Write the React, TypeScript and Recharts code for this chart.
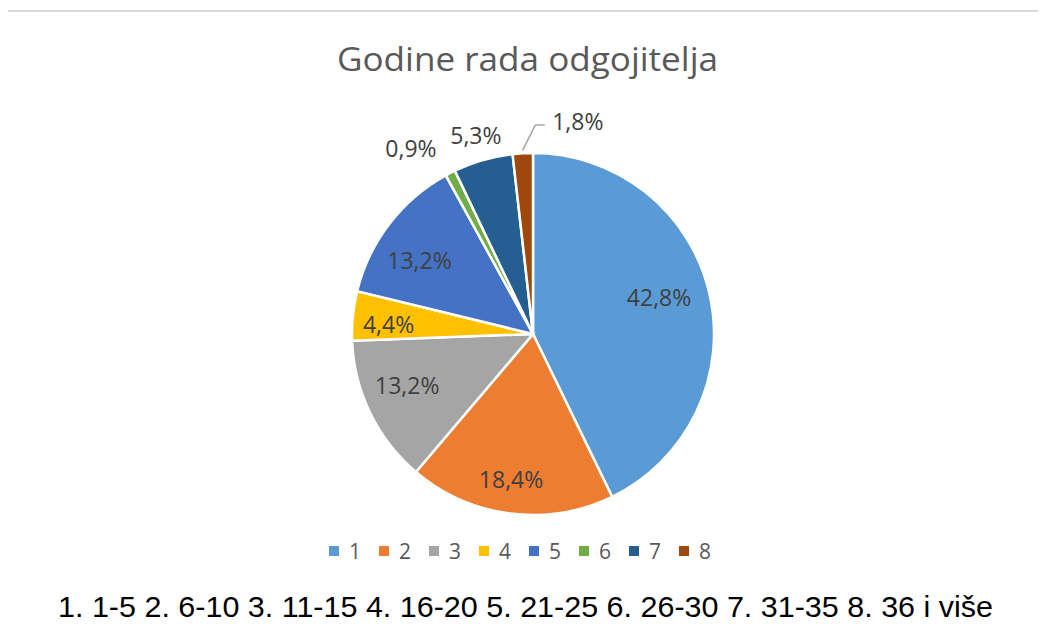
import { PieChart, Pie, Cell, Legend } from "recharts";

const CATEGORIES = ["1", "2", "3", "4", "5", "6", "7", "8"];
const SHARES = [42.8, 18.4, 13.2, 4.4, 13.2, 0.9, 5.3, 1.8];
const COLORS = ["#5B9BD5", "#ED7D31", "#A5A5A5", "#FFC000", "#4472C4", "#70AD47", "#255E91", "#9E480E"];
const TITLE = "Godine rada odgojitelja";
const CAPTION = "1. 1-5 2. 6-10 3. 11-15 4. 16-20 5. 21-25 6. 26-30 7. 31-35 8. 36 i više";

const pieData = CATEGORIES.map((name, i) => ({ name, value: SHARES[i] }));

// label placement: radius factor and angle shift (deg, clockwise) per slice
const LABEL_PLACE = [
  { f: 0.725, da: -3.2 },
  { f: 0.81, da: 1.4 },
  { f: 0.75, da: 3.8 },
  { f: 0.8, da: -1.7 },
  { f: 0.75, da: -4.2 },
  { f: 1.229, da: -6.1 },
  { f: 1.143, da: 0 },
  { f: 1.205, da: 15.1 },
];

const RAD = Math.PI / 180;
const fmt = (v: number) => v.toFixed(1).replace(".", ",") + "%";

function renderLabel(props: any) {
  const { cx, cy, midAngle, outerRadius, index, value } = props;
  const p = LABEL_PLACE[index];
  // clockwise from top
  const cw = 90 - midAngle + p.da;
  const r = outerRadius * p.f;
  const x = cx + r * Math.sin(cw * RAD);
  const y = cy - r * Math.cos(cw * RAD);
  const text = fmt(value);
  let leader = null;
  if (index === 7) {
    const mid = 90 - midAngle;
    const ex = cx + (outerRadius + 3) * Math.sin(mid * RAD);
    const ey = cy - (outerRadius + 3) * Math.cos(mid * RAD);
    const left = x - 25.5;
    leader = (
      <polyline
        points={`${ex},${ey} ${left - 17},${y + 4.5} ${left - 7.5},${y + 4.5}`}
        fill="none"
        stroke="#A6A6A6"
        strokeWidth={1.5}
      />
    );
  }
  return (
    <g key={`lbl-${index}`}>
      {leader}
      <text
        x={x}
        y={y}
        textAnchor="middle"
        dominantBaseline="central"
        fill="#404040"
        fontSize={23}
        fontFamily="'Open Sans', sans-serif"
      >
        {text}
      </text>
    </g>
  );
}

function LegendContent(props: any) {
  const items = props.payload || [];
  return (
    <div style={{ display: "flex", justifyContent: "center", paddingLeft: 12 }}>
      {items.map((it: any, i: number) => (
        <div key={i} style={{ display: "flex", alignItems: "center", width: 50 }}>
          <div style={{ width: 10, height: 10, background: COLORS[i], marginRight: 10 }} />
          <span style={{ fontSize: 21, color: "#595959", fontFamily: "'Open Sans', sans-serif", lineHeight: "28px" }}>
            {it.value}
          </span>
        </div>
      ))}
    </div>
  );
}

export default function App() {
  return (
    <div
      style={{
        position: "relative",
        margin: -8,
        width: 1046,
        height: 637,
        overflow: "hidden",
        background: "#fff",
      }}
    >
      <div
        style={{
          position: "absolute",
          left: 6,
          top: 10,
          width: 1100,
          height: 700,
          borderLeft: "2px solid #D9D9D9",
          borderTop: "2px solid #D9D9D9",
        }}
      />
      <div style={{ position: "absolute", left: 0, top: 0 }}>
        <PieChart width={1046} height={637} margin={{ top: 0, right: 0, bottom: 0, left: 0 }}>
          <Pie
            data={pieData}
            dataKey="value"
            nameKey="name"
            cx={533}
            cy={334}
            outerRadius={181}
            startAngle={90}
            endAngle={-270}
            stroke="#fff"
            strokeWidth={2.5}
            label={renderLabel}
            labelLine={false}
            isAnimationActive={false}
          >
            {pieData.map((_, i) => (
              <Cell key={i} fill={COLORS[i]} />
            ))}
          </Pie>
          <Legend
            content={<LegendContent />}
            verticalAlign="bottom"
            wrapperStyle={{ top: 537, bottom: "auto", left: 0, width: 1046 }}
          />
        </PieChart>
      </div>
      <svg
        width={1046}
        height={637}
        style={{ position: "absolute", left: 0, top: 0, pointerEvents: "none" }}
      >
        <text
          x={527.5}
          y={71}
          textAnchor="middle"
          fill="#595959"
          fontSize={32}
          fontFamily="'Open Sans', sans-serif"
          textLength={381}
          lengthAdjust="spacingAndGlyphs"
        >
          {TITLE}
        </text>
        <text
          x={525.5}
          y={617}
          textAnchor="middle"
          fill="#000"
          fontSize={30}
          fontFamily="'Liberation Sans Narrow', 'Liberation Sans', sans-serif"
          textLength={935}
          lengthAdjust="spacingAndGlyphs"
        >
          {CAPTION}
        </text>
      </svg>
    </div>
  );
}
